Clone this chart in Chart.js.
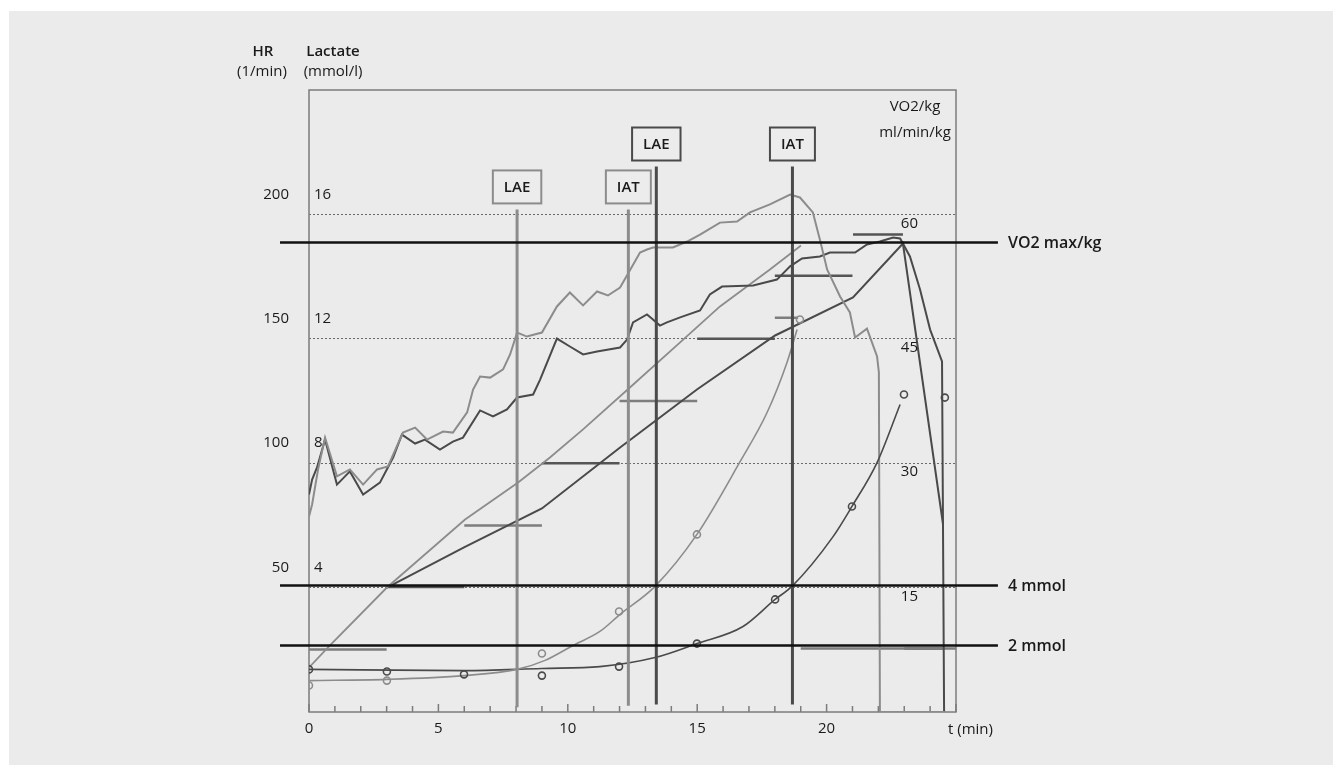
<!DOCTYPE html>
<html>
<head>
<meta charset="utf-8">
<script src="https://cdn.jsdelivr.net/npm/chart.js@4.4.0/dist/chart.umd.min.js"></script>
<style>
    html, body { margin: 0; padding: 0; background: #fff; }
    #panel { position: absolute; left: 9px; top: 11px; width: 1324px; height: 754px; background: #ebebeb; }
    #wrap { position: absolute; left: 0; top: 0; width: 1338px; height: 765px; }
</style>
</head>
<body>
<div id="panel"></div>
<div id="wrap"><canvas id="chart" width="1338" height="765"></canvas></div>
<script>
// Herzfrequenz Test 1 (hell) und Test 2 (dunkel), t in min, HR in 1/min
const hr1T = [0, 0.12, 0.35, 0.62, 1.08, 1.58, 2.09, 2.63, 3.05, 3.63, 4.10, 4.56, 5.18, 5.56, 6.11, 6.34, 6.61, 7.00, 7.50, 7.77,
    8.04, 8.42, 9.00, 9.58, 10.08, 10.59, 11.13, 11.55, 12.02, 12.33, 12.79, 13.06, 13.29, 14.06, 14.61, 15.11, 15.88, 16.54,
    17.04, 17.81, 18.59, 18.97, 19.47, 19.74, 20.02, 20.52, 20.90, 21.10, 21.56, 21.95, 22.02, 22.06, 24.57];
const hr1 = [78.6, 83.4, 97.5, 110.3, 94.7, 97.5, 91.4, 97.5, 98.7, 112.3, 114.3, 109.5, 112.7, 112.3, 120.4, 129.6, 134.8, 134.4, 137.7, 143.7,
    152.5, 150.9, 152.5, 163.0, 168.6, 163.4, 169.0, 167.4, 170.6, 176.2, 184.7, 185.9, 186.7, 186.7, 189.1, 191.9, 196.7, 197.1,
    200.8, 204.0, 208.0, 206.8, 200.8, 189.9, 177.9, 167.0, 160.6, 150.5, 154.1, 142.9, 136.5, 0, 0];

const hr2T = [0, 0.12, 0.31, 0.62, 1.08, 1.58, 2.09, 2.74, 3.25, 3.59, 4.10, 4.48, 5.06, 5.56, 5.95, 6.61, 7.11, 7.65, 8.04, 8.66,
    8.93, 9.58, 10.08, 10.59, 11.13, 12.02, 12.29, 12.52, 13.06, 13.29, 13.56, 13.83, 14.34, 15.11, 15.49, 15.96, 17.16, 18.08,
    18.59, 19.05, 19.74, 20.13, 21.10, 21.56, 22.06, 22.57, 22.84, 23.22, 23.61, 24.00, 24.46, 24.54];
const hr2 = [87.4, 93.4, 98.3, 109.5, 91.4, 96.7, 87.4, 92.2, 102.3, 111.5, 107.9, 109.5, 105.5, 108.7, 110.3, 121.2, 118.8, 121.6, 126.4, 127.6,
    133.6, 150.1, 146.9, 143.7, 144.9, 146.5, 149.7, 156.6, 159.8, 157.8, 155.3, 156.6, 158.6, 161.4, 167.8, 171.0, 171.4, 173.8,
    179.1, 182.3, 183.1, 184.7, 184.7, 187.9, 189.1, 190.7, 190.3, 183.1, 169.8, 153.7, 140.9, 0];

// VO2/kg in ml/min/kg
const vo1T = [0, 0.81, 3.01, 6.03, 8.08, 9.31, 10.59, 12.40, 14.34, 15.88, 17.81, 19.01];
const vo1 = [5.37, 8.02, 15.01, 23.21, 27.67, 30.69, 34.07, 39.13, 44.56, 48.90, 53.36, 56.25];
const vo2T = [3.01, 5.99, 9.00, 12.02, 14.99, 18.01, 21.02, 22.95, 24.50];
const vo2 = [15.01, 19.84, 24.54, 31.89, 38.89, 45.40, 49.98, 56.49, 22.61];

// Laktat-Messwerte (mmol/l)
const lac1T = [0, 3.01, 9.0, 11.98, 14.99, 18.97];
const lac1 = [0.85, 1.01, 1.88, 3.23, 5.71, 12.62];
const lac2T = [0, 3.01, 5.99, 9.0, 11.98, 14.99, 18.01, 20.98, 22.99, 24.57];
const lac2 = [1.37, 1.30, 1.21, 1.17, 1.46, 2.20, 3.62, 6.61, 10.21, 10.11];

// Laktatkurven (Ausgleich)
const fit1T = [0, 3.01, 5.99, 8.04, 9.12, 10.2, 11.24, 12.02, 13.37, 14.99, 16.65, 17.70, 18.47, 18.86];
const fit1 = [1.01, 1.05, 1.17, 1.37, 1.66, 2.14, 2.59, 3.14, 4.04, 5.71, 8.04, 9.63, 11.24, 12.30];
const fit2T = [0, 5.99, 9.0, 11.24, 13.37, 14.99, 16.77, 18.01, 18.66, 20.25, 20.98, 21.95, 22.84];
const fit2 = [1.37, 1.33, 1.40, 1.46, 1.75, 2.20, 2.75, 3.62, 4.04, 5.64, 6.61, 8.02, 9.89];

// Belastungsstufen [von, bis, Wert]
const stufenHell = [[0, 3, 2.01], [6, 9, 6.0], [12, 15, 10.0], [18, 18.9, 12.68], [19, 25, 2.04]];
const stufenDunkel = [[3, 6, 4.02], [9, 12, 8.0], [15, 18, 12.0], [18, 21, 14.03], [21.02, 22.95, 15.35], [23, 24.5, 2.04]];

// Schwellen
const schwelleName = ['LAE', 'IAT', 'LAE', 'IAT'];
const schwelleT = [8.04, 12.34, 13.42, 18.68];
const schwelleOben = [16.16, 16.16, 17.54, 17.54];
const schwelleUnten = [0.15, 0.2, 0.24, 0.24];
const schwelleHell = [true, true, false, false];

// Referenzlinien
const refName = ['VO2 max/kg', '4 mmol', '2 mmol'];
const refWert = [56.6, 4.07, 2.14];
const refAchse = ['yVO2', 'yLac', 'yLac'];
const refVon = -1.12, refBis = 26.62;

const hrTicks = [50, 100, 150, 200];
const lacTicks = [4, 8, 12, 16];
const vo2Ticks = [15, 30, 45, 60];
const tTicks = [0, 5, 10, 15, 20];

const HELL = '#8c8c8c';
const DUNKEL = '#4a4a4a';
const SCHWARZ = '#111111';
const FONT = "'Open Sans', 'Noto Sans', sans-serif";

function punkte(ts, ys) {
    return ts.map((t, i) => ({ x: t, y: ys[i] }));
}
function stufenPunkte(list) {
    const out = [];
    list.forEach(([a, b, v]) => {
        out.push({ x: a, y: v }, { x: b, y: v }, { x: b, y: null });
    });
    return out;
}

const datasets = [];
refName.forEach((n, i) => {
    datasets.push({
        label: n, data: [{ x: refVon, y: refWert[i] }, { x: refBis, y: refWert[i] }],
        yAxisID: refAchse[i], borderColor: SCHWARZ, borderWidth: 2.5, clip: false, order: 0
    });
});
schwelleName.forEach((n, i) => {
    datasets.push({
        label: n, data: [{ x: schwelleT[i], y: schwelleUnten[i] }, { x: schwelleT[i], y: schwelleOben[i] }],
        yAxisID: 'yLac', borderColor: schwelleHell[i] ? HELL : DUNKEL, borderWidth: 3, order: 1
    });
});
datasets.push(
    { label: 'Laktat 1', data: punkte(lac1T, lac1), yAxisID: 'yLac', showLine: false, pointRadius: 3.5,
      pointBorderWidth: 1.6, pointBorderColor: HELL, pointBackgroundColor: 'rgba(0,0,0,0)', order: 2 },
    { label: 'Laktat 2', data: punkte(lac2T, lac2), yAxisID: 'yLac', showLine: false, pointRadius: 3.5,
      pointBorderWidth: 1.6, pointBorderColor: DUNKEL, pointBackgroundColor: 'rgba(0,0,0,0)', order: 2 },
    { label: 'Laktatkurve 1', data: punkte(fit1T, fit1), yAxisID: 'yLac', borderColor: HELL, borderWidth: 1.6,
      cubicInterpolationMode: 'monotone', order: 3 },
    { label: 'Laktatkurve 2', data: punkte(fit2T, fit2), yAxisID: 'yLac', borderColor: DUNKEL, borderWidth: 1.6,
      cubicInterpolationMode: 'monotone', order: 3 },
    { label: 'HR 1', data: punkte(hr1T, hr1), yAxisID: 'yHR', borderColor: HELL, borderWidth: 2, order: 4 },
    { label: 'HR 2', data: punkte(hr2T, hr2), yAxisID: 'yHR', borderColor: DUNKEL, borderWidth: 2, order: 4 },
    { label: 'VO2 1', data: punkte(vo1T, vo1), yAxisID: 'yVO2', borderColor: HELL, borderWidth: 1.8, order: 5 },
    { label: 'VO2 2', data: punkte(vo2T, vo2), yAxisID: 'yVO2', borderColor: DUNKEL, borderWidth: 2, order: 5 },
    { label: 'Stufen 1', data: stufenPunkte(stufenHell), yAxisID: 'yLac', borderColor: '#7e7e7e', borderWidth: 2.5,
      spanGaps: false, order: 6 },
    { label: 'Stufen 2', data: stufenPunkte(stufenDunkel), yAxisID: 'yLac', borderColor: '#555555', borderWidth: 2.5,
      spanGaps: false, order: 6 }
);

function text(ctx, str, x, y, align, font) {
    ctx.font = font;
    ctx.textAlign = align;
    ctx.textBaseline = 'middle';
    ctx.fillText(str, x, y);
}

const deko = {
    id: 'deko',
    beforeDatasetsDraw(chart) {
        const { ctx, chartArea: a, scales } = chart;
        ctx.save();
        ctx.strokeStyle = '#7c7c7c';
        ctx.lineWidth = 1.5;
        for (let t = 0; t <= 25; t++) {
            const x = scales.x.getPixelForValue(t);
            const len = t % 5 === 0 ? 8 : 6;
            ctx.beginPath();
            ctx.moveTo(x, a.bottom);
            ctx.lineTo(x, a.bottom - len);
            ctx.stroke();
        }
        ctx.strokeRect(a.left, a.top, a.right - a.left, a.bottom - a.top);
        ctx.restore();
    },
    afterDatasetsDraw(chart) {
        const { ctx, chartArea: a, scales } = chart;
        ctx.save();
        ctx.fillStyle = '#1a1a1a';
        const reg = '15px ' + FONT;
        const fett = '600 15px ' + FONT;

        // Achsentitel
        text(ctx, 'HR', a.left - 46, 52, 'center', fett);
        text(ctx, '(1/min)', a.left - 47, 72, 'center', reg);
        text(ctx, 'Lactate', a.left + 24, 52, 'center', fett);
        text(ctx, '(mmol/l)', a.left + 24, 72, 'center', reg);
        text(ctx, 'VO2/kg', a.right - 41, a.top + 17, 'center', reg);
        text(ctx, 'ml/min/kg', a.right - 41, a.top + 43, 'center', reg);

        hrTicks.forEach(v => text(ctx, String(v), a.left - 20, scales.yHR.getPixelForValue(v) - 20, 'right', reg));
        lacTicks.forEach(v => text(ctx, String(v), a.left + 5, scales.yLac.getPixelForValue(v) - 20, 'left', reg));
        vo2Ticks.forEach(v => text(ctx, String(v), a.right - 38, scales.yVO2.getPixelForValue(v) + 9, 'right', reg));
        tTicks.forEach(v => text(ctx, String(v), scales.x.getPixelForValue(v), a.bottom + 17, 'center', reg));
        text(ctx, 't (min)', a.right - 8, a.bottom + 18, 'left', reg);

        // Referenzlinien-Beschriftung
        refName.forEach((n, i) => {
            text(ctx, n, scales.x.getPixelForValue(refBis) + 10, scales[refAchse[i]].getPixelForValue(refWert[i]) + 1, 'left', '600 16px ' + FONT);
        });

        // Schwellen-Kästchen
        schwelleName.forEach((n, i) => {
            const x = scales.x.getPixelForValue(schwelleT[i]);
            const yTop = scales.yLac.getPixelForValue(schwelleOben[i]);
            ctx.font = fett;
            const w = ctx.measureText(n).width + 22;
            const h = 33;
            const yb = yTop - 6;
            ctx.fillStyle = '#ececec';
            ctx.fillRect(x - w / 2, yb - h, w, h);
            ctx.strokeStyle = schwelleHell[i] ? HELL : DUNKEL;
            ctx.lineWidth = 2;
            ctx.strokeRect(x - w / 2, yb - h, w, h);
            ctx.fillStyle = '#1a1a1a';
            text(ctx, n, x, yb - h / 2 + 1, 'center', fett);
        });
        ctx.restore();
    }
};

new Chart(document.getElementById('chart'), {
    type: 'line',
    data: { datasets: datasets },
    options: {
        responsive: false,
        animation: false,
        events: [],
        layout: { padding: { left: 309, top: 90, right: 382, bottom: 53 } },
        elements: { point: { radius: 0 }, line: { tension: 0 } },
        plugins: { legend: { display: false }, tooltip: { enabled: false } },
        scales: {
            x: { type: 'linear', min: 0, max: 25, display: false },
            yHR: { type: 'linear', min: 0, max: 250, display: false },
            yVO2: { type: 'linear', min: 0, max: 75, display: false },
            yLac: {
                type: 'linear', min: 0, max: 20, position: 'left',
                afterBuildTicks: axis => { axis.ticks = lacTicks.map(v => ({ value: v })); },
                afterFit: axis => { axis.width = 0; },
                ticks: { display: false },
                grid: { color: '#6a6a6a', lineWidth: 1, drawTicks: false },
                border: { display: false, dash: [2, 2] }
            }
        }
    },
    plugins: [deko]
});
</script>
</body>
</html>
